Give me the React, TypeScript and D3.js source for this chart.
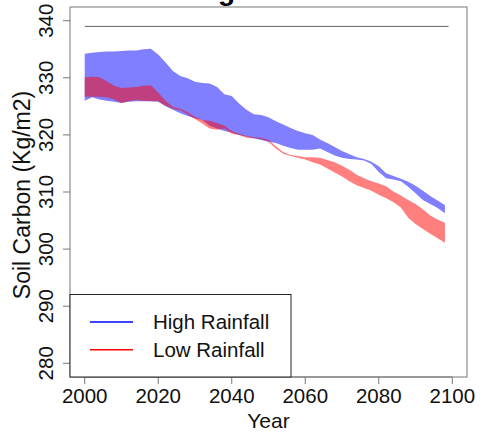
import React, { useEffect, useRef } from 'react';
import * as d3 from 'd3';

const width = 487;
const height = 432;
const FONT = '"Liberation Sans", Arial, sans-serif';

// years shared by both bands
const years = [
  2000, 2002, 2004, 2006, 2008, 2010, 2012, 2014, 2016, 2018,
  2020, 2022, 2024, 2026, 2028, 2030, 2032, 2034, 2036, 2038,
  2040, 2042, 2044, 2046, 2048, 2050, 2052, 2054, 2056, 2058,
  2060, 2062, 2064, 2066, 2068, 2070, 2072, 2074, 2076, 2078,
  2080, 2082, 2084, 2086, 2088, 2090, 2092, 2094, 2096, 2098,
];

// High Rainfall band
const highUpper = [
  334.2, 334.4, 334.5, 334.6, 334.6, 334.7, 334.8, 334.8, 335.0, 335.1,
  334.1, 332.7, 331.2, 330.3, 329.9, 329.3, 329.1, 329.0, 328.4, 327.1,
  326.8, 325.5, 324.4, 323.6, 323.5, 323.1, 322.4, 321.8, 321.2, 320.7,
  320.3, 320.0, 319.2, 318.6, 317.9, 317.2, 316.6, 316.1, 315.8, 315.3,
  314.5, 313.3, 312.8, 312.3, 311.8, 311.1, 310.2, 309.3, 308.5, 307.7,
];
const highLower = [
  326.0, 326.6, 326.2, 326.0, 325.8, 325.6, 325.8, 325.9, 325.9, 325.9,
  325.8, 325.0, 324.4, 323.8, 323.3, 322.9, 322.6, 321.6, 321.1, 320.7,
  320.4, 320.0, 319.7, 319.4, 319.1, 318.8, 318.6, 318.1, 317.7, 317.4,
  317.4, 317.4, 317.6, 317.0, 316.4, 316.0, 315.8, 315.7, 315.5, 314.9,
  313.5, 312.4, 312.2, 311.9, 310.9, 309.8, 308.6, 307.9, 307.2, 306.3,
];

// Low Rainfall band
const lowUpper = [
  330.1, 330.2, 330.1, 329.4, 328.6, 328.2, 328.3, 328.4, 328.6, 328.7,
  327.4, 326.0, 324.9, 324.6, 324.0, 323.2, 322.6, 322.5, 322.1, 321.6,
  320.7, 320.2, 319.8, 319.6, 319.5, 319.1, 318.0, 317.0, 316.5, 316.3,
  316.1, 316.1, 316.0, 315.6, 315.2, 314.6, 313.9, 313.0, 312.4, 311.9,
  311.5, 311.0, 310.1, 309.4, 308.6, 307.9, 307.0, 305.9, 305.2, 304.6,
];
const lowLower = [
  326.7, 326.7, 326.7, 326.6, 326.2, 325.6, 325.9, 326.1, 326.0, 325.9,
  325.9, 325.1, 324.6, 324.3, 323.6, 322.8, 322.0, 321.1, 320.9, 321.1,
  320.2, 320.0, 319.5, 319.4, 319.3, 318.8, 317.6, 316.7, 316.3, 316.0,
  315.7, 315.2, 314.8, 314.1, 313.4, 312.7, 311.9, 311.2, 310.7, 310.2,
  309.5, 308.9, 308.2, 307.3, 305.5, 304.4, 303.5, 302.7, 301.9, 301.1,
];

const refLevel = 339;
const refYears = [2000, 2099];

const xTicks = [2000, 2020, 2040, 2060, 2080, 2100];
const yTicks = [280, 290, 300, 310, 320, 330, 340];

const legendNames = ['High Rainfall', 'Low Rainfall'];
const legendColors = ['#0000ff', '#ff0000'];

const App = () => {
  const ref = useRef<SVGSVGElement | null>(null);

  useEffect(() => {
    const svg = d3.select(ref.current);
    svg.selectAll('*').remove();

    const left = 70, right = 467, top = 7, bottom = 377;

    // R style 4% padding around xlim/ylim
    const x = d3.scaleLinear().domain([1996, 2104]).range([left, right]);
    const y = d3.scaleLinear().domain([277.6, 342.4]).range([bottom, top]);

    const band = (hi: number[], lo: number[]) =>
      years.map((yr, i) => ({ yr, hi: hi[i], lo: lo[i] }));

    const area = d3.area<{ yr: number; hi: number; lo: number }>()
      .x(d => x(d.yr))
      .y0(d => y(d.lo))
      .y1(d => y(d.hi));

    svg.append('path')
      .attr('d', area(band(highUpper, highLower)))
      .attr('fill', 'rgba(0,0,255,0.5)');
    svg.append('path')
      .attr('d', area(band(lowUpper, lowLower)))
      .attr('fill', 'rgba(255,0,0,0.5)');

    // reference line
    svg.append('line')
      .attr('x1', x(refYears[0])).attr('x2', x(refYears[1]))
      .attr('y1', y(refLevel)).attr('y2', y(refLevel))
      .attr('stroke', '#666').attr('stroke-width', 1);

    // frame
    svg.append('rect')
      .attr('x', left).attr('y', top)
      .attr('width', right - left).attr('height', bottom - top)
      .attr('fill', 'none').attr('stroke', '#777').attr('stroke-width', 1);

    // x axis
    const gx = svg.append('g');
    gx.append('line')
      .attr('x1', x(xTicks[0])).attr('x2', x(xTicks[xTicks.length - 1]))
      .attr('y1', bottom).attr('y2', bottom).attr('stroke', '#777');
    xTicks.forEach(t => {
      gx.append('line')
        .attr('x1', x(t)).attr('x2', x(t))
        .attr('y1', bottom).attr('y2', bottom + 7)
        .attr('stroke', '#777');
      gx.append('text')
        .attr('x', x(t)).attr('y', 403)
        .attr('text-anchor', 'middle')
        .attr('font-family', FONT).attr('font-size', 20.5)
        .attr('fill', '#111')
        .text(t);
    });
    gx.append('text')
      .attr('x', (left + right) / 2).attr('y', 428)
      .attr('text-anchor', 'middle')
      .attr('font-family', FONT).attr('font-size', 21)
      .attr('fill', '#111')
      .text('Year');

    // y axis
    const gy = svg.append('g');
    yTicks.forEach(t => {
      gy.append('line')
        .attr('x1', left - 7).attr('x2', left)
        .attr('y1', y(t)).attr('y2', y(t))
        .attr('stroke', '#777');
      gy.append('text')
        .attr('transform', `translate(53,${y(t)}) rotate(-90)`)
        .attr('text-anchor', 'middle')
        .attr('font-family', FONT).attr('font-size', 20.5)
        .attr('fill', '#111')
        .text(t);
    });
    gy.append('text')
      .attr('transform', `translate(30,195) rotate(-90)`)
      .attr('text-anchor', 'middle')
      .attr('font-family', FONT).attr('font-size', 23)
      .attr('fill', '#111')
      .text('Soil Carbon (Kg/m2)');

    // title, mostly outside the picture
    svg.append('text')
      .attr('x', 218).attr('y', 0)
      .attr('font-family', FONT).attr('font-size', 28).attr('font-weight', 'bold')
      .attr('fill', '#000')
      .text('g');

    // legend
    const lg = svg.append('g');
    lg.append('rect')
      .attr('x', left).attr('y', 294.5)
      .attr('width', 221).attr('height', bottom - 294.5)
      .attr('fill', '#fff').attr('stroke', '#222').attr('stroke-width', 1);
    legendNames.forEach((name, i) => {
      const ly = 322 + i * 27.7;
      lg.append('line')
        .attr('x1', 90).attr('x2', 133)
        .attr('y1', ly).attr('y2', ly)
        .attr('stroke', legendColors[i]).attr('stroke-width', 1.5);
      lg.append('text')
        .attr('x', 153).attr('y', ly + 7.4)
        .attr('font-family', FONT).attr('font-size', 20.5)
        .attr('fill', '#111')
        .text(name);
    });
  }, []);

  return (
    <div style={{ position: 'absolute', left: 0, top: 0 }}>
      <svg ref={ref} width={width} height={height} style={{ display: 'block', background: '#fff' }} />
    </div>
  );
};

export default App;
